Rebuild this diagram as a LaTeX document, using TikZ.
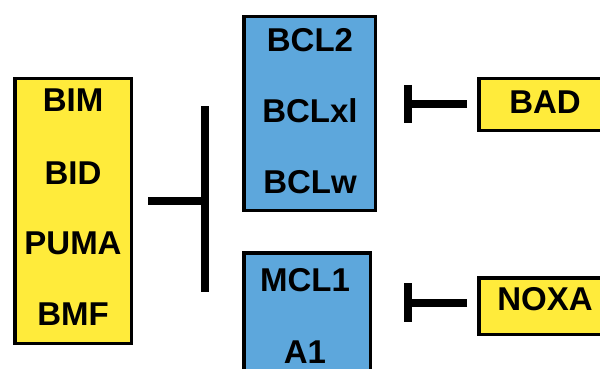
\documentclass[tikz,border=0pt]{standalone}
\usepackage{fontspec}
\setmainfont{Liberation Sans}
\definecolor{boxyellow}{RGB}{255,235,59}
\definecolor{boxblue}{RGB}{93,167,220}
\begin{document}
\begin{tikzpicture}[x=1pt,y=-1pt,
  panel/.style={draw=black,line width=3.5pt,inner sep=0pt},
  yellowbox/.style={panel,fill=boxyellow},
  bluebox/.style={panel,fill=boxblue},
  lbl/.style={font=\fontsize{33}{36}\selectfont\bfseries,inner sep=0pt,anchor=center},
  bar/.style={line width=8pt,line cap=butt}]
\useasboundingbox (0,0) rectangle (600,369);
\clip (0,0) rectangle (600,369);
\fill[white] (0,0) rectangle (600,369);

% activator group (left)
\node[yellowbox,minimum width=116.5pt,minimum height=264.5pt] (act) at (73,211) {};
\node[lbl] (bim)  at (73,100) {BIM};
\node[lbl] (bid)  at (73,173) {BID};
\node[lbl] (puma) at (73,243) {PUMA};
\node[lbl] (bmf)  at (73,314) {BMF};

% anti-apoptotic groups (centre)
\node[bluebox,minimum width=131.5pt,minimum height=193.5pt] (bcl) at (309.5,113.5) {};
\node[lbl] (bcl2)  at (310,40)  {BCL2};
\node[lbl] (bclxl) at (310,111) {BCLxl};
\node[lbl] (bclw)  at (310,182) {BCLw};

\node[bluebox,minimum width=126.5pt,minimum height=160pt] (mcl) at (307,333) {};
\node[lbl] (mcl1) at (305,280) {MCL1};
\node[lbl] (a1)   at (305,352) {A1};

% sensitizers (right)
\node[yellowbox,minimum width=160pt,minimum height=51.5pt] (badbox) at (559,104.5) {};
\node[lbl] (bad) at (545,102) {BAD};
\node[yellowbox,minimum width=160pt,minimum height=56.5pt] (noxabox) at (559,306) {};
\node[lbl] (noxa) at (545,299) {NOXA};

% inhibition bars
\coordinate (lfrom) at (148,201);
\coordinate (lto)   at (209,201);
\coordinate (ltop)  at (205,106);
\coordinate (lbot)  at (205,292);
\draw[bar] (lfrom) -- (lto);
\draw[bar] (ltop) -- (lbot);

\coordinate (bfrom) at (467,104);
\coordinate (bto)   at (404,104);
\coordinate (btop)  at (408,85);
\coordinate (bbot)  at (408,123);
\draw[bar] (bfrom) -- (bto);
\draw[bar] (btop) -- (bbot);

\coordinate (nfrom) at (467,303);
\coordinate (nto)   at (404,303);
\coordinate (ntop)  at (408,283);
\coordinate (nbot)  at (408,322);
\draw[bar] (nfrom) -- (nto);
\draw[bar] (ntop) -- (nbot);
\end{tikzpicture}
\end{document}
